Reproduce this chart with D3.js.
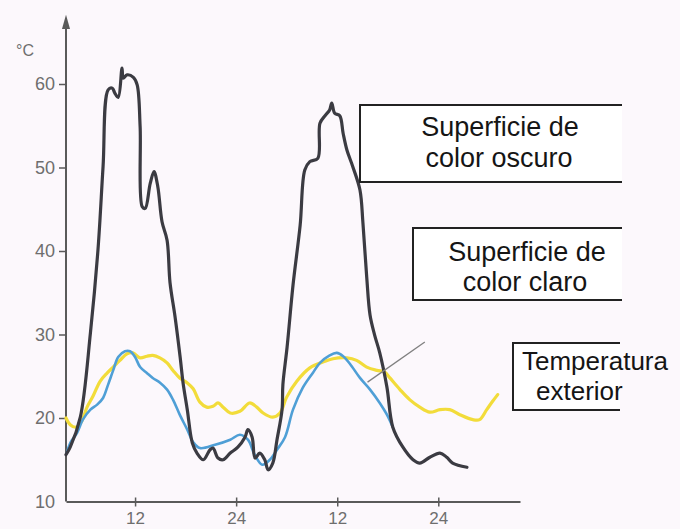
<!DOCTYPE html>
<html>
<head>
<meta charset="utf-8">
<script src="https://cdn.jsdelivr.net/npm/d3@7"></script>
<style>
  html, body { margin: 0; padding: 0; background: #fcf8fc; }
  svg { display: block; }
</style>
</head>
<body>
<svg id="chart" width="680" height="529"></svg>
<script>
// ---- data (hours from start, °C) ----
const darkHours = [3.8,4.3,5.5,6.7,7.6,8.2,8.8,9.3,9.6,10.0,10.45,10.6,11.05,11.8,12.25,12.6,12.85,13.2,13.8,14.25,14.7,15.2,15.8,16.15,16.75,17.35,17.7,18.2,18.8,19.35,20.1,20.9,21.25,21.85,22.45,23.3,24.2,25.05,25.4,25.9,26.25,26.8,27.4,27.8,28.35,28.85,29.45,29.55,30.05,30.75,31.6,32.15,32.75,33.7,33.95,34.55,35.1,35.35,35.7,36.3,36.7,37.15,37.85,38.7,39.05,39.5,39.9,40.45,41.05,41.9,42.6,43.8,45.0,45.8,47.0,48.2,49.0,49.7,51.4];
const darkTemps = [15.6,16.5,20.1,30.2,40.2,50.1,59.3,59.5,58.9,58.4,61.9,60.7,61.1,60.8,59.9,54.9,45.3,45.1,48.1,49.5,47.7,43.5,41.3,36.2,32.1,27.3,24.2,21.0,17.0,15.8,15.0,16.2,16.4,15.2,15.0,15.8,16.5,17.7,18.6,17.7,15.2,15.8,15.0,13.8,14.6,17.4,21.0,24.0,28.5,35.9,43.1,49.7,50.7,51.1,55.3,56.2,56.9,57.7,56.5,56.2,54.1,52.1,50.1,47.3,43.4,36.9,32.3,29.9,27.8,23.7,18.9,16.5,15.0,14.6,15.3,15.8,15.3,14.6,14.1];

const lightHours = [3.9,4.3,5.1,5.8,6.7,7.5,8.2,8.8,9.4,10.0,10.8,11.4,12.0,12.6,13.4,14.1,15.0,15.8,16.5,17.3,18.2,18.9,19.7,21.5,23.3,24.45,25.4,26.2,27.1,28.0,28.85,29.8,30.75,31.9,33.1,33.95,35.1,35.95,36.7,37.5,38.7,39.9,41.05,41.9,42.6];
const lightTemps = [15.8,17.0,18.2,19.8,21.0,21.6,22.4,24.0,25.7,27.3,28.0,28.0,27.3,26.1,25.4,24.8,24.2,23.4,22.2,20.4,18.6,17.1,16.4,16.8,17.4,18.0,17.4,15.6,14.4,15.0,16.2,17.7,21.0,23.6,25.4,26.6,27.5,27.8,27.4,26.5,24.8,23.4,21.8,20.4,18.9];

const extHours = [3.8,4.3,5.0,5.6,6.3,7.0,7.85,8.7,9.4,10.2,11.05,11.75,12.6,13.4,14.1,14.95,15.8,16.5,17.3,18.2,18.9,19.7,20.5,21.25,21.85,22.45,23.3,24.45,25.6,26.45,27.2,28.35,29.2,30.0,31.2,32.75,34.3,35.5,37.15,38.3,39.5,40.7,41.65,42.25,43.45,44.6,45.8,47.0,48.2,49.35,50.55,52.1,52.9,53.75,54.45,55.05];
const extTemps = [20.0,19.2,18.9,19.5,21.3,22.6,24.4,25.4,26.1,26.9,27.7,27.8,27.2,27.4,27.5,27.2,26.6,25.7,24.8,24.2,23.5,21.9,21.3,21.4,21.8,21.3,20.6,20.8,21.8,21.3,20.6,20.1,20.6,22.5,24.4,26.0,26.7,27.1,27.2,26.9,26.1,25.7,25.5,24.8,23.4,22.2,21.3,20.7,21.0,21.0,20.4,19.8,19.8,21.0,22.0,22.8];

const yTickValues = [10, 20, 30, 40, 50, 60];
const xTickValues = [12, 24, 36, 48];
const xTickLabels = ["12", "24", "12", "24"];
const yUnit = "°C";

const seriesNames = ["Superficie de color oscuro", "Superficie de color claro", "Temperatura exterior"];
const seriesLines = [["Superficie de", "color oscuro"], ["Superficie de", "color claro"], ["Temperatura", "exterior"]];

// ---- layout ----
const svg = d3.select("#chart");
svg.append("rect").attr("width", 680).attr("height", 529).attr("fill", "#fcf8fc");

const x = d3.scaleLinear().domain([3.8, 57.7]).range([66, 520]);
const y = d3.scaleLinear().domain([10, 60]).range([501.5, 84]);

const axisColor = "#5a5a5a";
const labelColor = "#6e6e6e";

// y axis line + arrow
svg.append("line")
  .attr("x1", x(3.8)).attr("x2", x(3.8))
  .attr("y1", y(10)).attr("y2", y(67))
  .attr("stroke", axisColor).attr("stroke-width", 2);
svg.append("path")
  .attr("d", `M${x(3.8)},${y(68.3)} L${x(3.8) - 4},${y(66.6)} L${x(3.8) + 4},${y(66.6)} Z`)
  .attr("fill", axisColor);

const yAxis = svg.append("g")
  .attr("transform", `translate(${x(3.8)},0)`)
  .call(d3.axisLeft(y).tickValues(yTickValues).tickSize(7).tickSizeOuter(0).tickPadding(4));
yAxis.select(".domain").remove();
yAxis.selectAll(".tick line").attr("stroke", axisColor).attr("stroke-width", 1.5)
  .filter(d => d === 10).remove();
yAxis.selectAll(".tick text")
  .attr("fill", labelColor)
  .style("font-family", "'Liberation Sans', Arial, sans-serif")
  .style("font-size", "18px");

svg.append("text")
  .attr("x", 16).attr("y", 56)
  .attr("fill", labelColor)
  .style("font-family", "'Liberation Sans', Arial, sans-serif")
  .style("font-size", "16px")
  .text(yUnit);

// x axis
const xAxis = svg.append("g")
  .attr("transform", `translate(0,${y(10)})`)
  .call(d3.axisBottom(x).tickValues(xTickValues)
    .tickFormat((d, i) => xTickLabels[i])
    .tickSizeInner(5).tickSizeOuter(0).tickPadding(5));
xAxis.select(".domain").attr("stroke", axisColor).attr("stroke-width", 2);
xAxis.selectAll(".tick line").attr("stroke", axisColor).attr("stroke-width", 1.5)
  .attr("y1", -4).attr("y2", 5);
xAxis.selectAll(".tick text")
  .attr("fill", labelColor)
  .style("font-family", "'Liberation Sans', Arial, sans-serif")
  .style("font-size", "17px");

// ---- lines ----
const mk = (hs, vs) => hs.map((h, i) => [h, vs[i]]);
const line = d3.line()
  .x(d => x(d[0])).y(d => y(d[1]))
  .curve(d3.curveCatmullRom.alpha(0.5));

svg.append("path").datum(mk(extHours, extTemps))
  .attr("d", line).attr("fill", "none")
  .attr("stroke", "#f2dc3a").attr("stroke-width", 3.2)
  .attr("stroke-linejoin", "round").attr("stroke-linecap", "round");

svg.append("path").datum(mk(lightHours, lightTemps))
  .attr("d", line).attr("fill", "none")
  .attr("stroke", "#4f9fd6").attr("stroke-width", 2.6)
  .attr("stroke-linejoin", "round").attr("stroke-linecap", "round");

svg.append("path").datum(mk(darkHours, darkTemps))
  .attr("d", line).attr("fill", "none")
  .attr("stroke", "#3b3b42").attr("stroke-width", 3.2)
  .attr("stroke-linejoin", "round").attr("stroke-linecap", "round");

// pointer line
svg.append("line")
  .attr("x1", x(39.6)).attr("y1", y(24.3))
  .attr("x2", x(46.4)).attr("y2", y(29.1))
  .attr("stroke", "#808080").attr("stroke-width", 1.3);

// ---- label boxes (open on the right) ----
const boxes = [
  { x0: 360, x1: 622, y0: 105, y1: 182, tx: [500, 499], ty: [136, 167], anchor: "middle", fs: 27 },
  { x0: 413, x1: 622, y0: 228, y1: 300, tx: [527, 525], ty: [261, 291], anchor: "middle", fs: 27 },
  { x0: 513, x1: 620, y0: 343, y1: 410, tx: [522, 536], ty: [370, 400], anchor: "start", fs: 26 }
];
boxes.forEach((b, i) => {
  const g = svg.append("g");
  g.append("rect").attr("x", b.x0).attr("y", b.y0)
    .attr("width", b.x1 - b.x0).attr("height", b.y1 - b.y0).attr("fill", "#ffffff");
  g.append("path")
    .attr("d", `M${b.x1},${b.y0} H${b.x0} V${b.y1} H${b.x1}`)
    .attr("fill", "none").attr("stroke", "#222").attr("stroke-width", 2);
  seriesLines[i].forEach((t, j) => {
    g.append("text")
      .attr("x", b.tx[j]).attr("y", b.ty[j])
      .attr("text-anchor", b.anchor)
      .attr("fill", "#151515")
      .style("font-family", "'Liberation Sans', Arial, sans-serif")
      .style("font-size", b.fs + "px")
      .text(t);
  });
});
</script>
</body>
</html>
